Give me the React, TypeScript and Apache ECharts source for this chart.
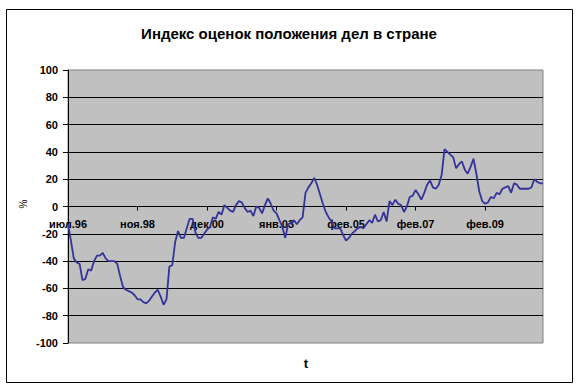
import React, { useEffect, useRef } from "react";
import * as echarts from "echarts";

const titleText = "Индекс оценок положения дел в стране";
const tickLabels = ["июл.96", "ноя.98", "дек.00", "янв.03", "фев.05", "фев.07", "фев.09"];
const pointsPerTick = 24;
const yTicks = { min: -100, max: 100, step: 20 };

const indexValues = [
  -13, -25, -38, -41, -42, -54, -53, -46, -47, -40,
  -36, -36, -34, -38, -40, -40, -40, -42, -51, -59,
  -61, -62, -63, -65, -68, -68, -70, -71, -69, -66,
  -63, -61, -66, -72, -68, -44, -43, -26, -18, -23,
  -23, -16, -9, -9, -19, -23, -23, -20, -17, -15,
  -8, -9, -4, -6, 1, -1, -3, -4, 1, 4,
  3, -1, -4, -3, -7, 0, -1, -5, 1, 6,
  2, -3, -5, -10, -15, -23, -13, -12, -10, -13,
  -10, -8, 10, 14, 17, 21, 16, 9, 2, -4,
  -8, -11, -16, -16, -16, -21, -25, -23, -20, -18,
  -16, -15, -16, -13, -10, -12, -6, -11, -10, -4,
  -11, 4, 1, 5, 2, 1, -4, 0, 7, 8,
  12, 9, 5, 10, 16, 19, 14, 13, 16, 23,
  42, 40, 38, 36, 28, 31, 33, 27, 24, 29,
  35, 24, 11, 4, 2, 3, 7, 6, 10, 9,
  13, 14, 15, 10, 17, 16, 13, 13, 13, 13,
  14, 20, 18, 17, 17,
];

const categories = indexValues.map((_, i) => String(i));

const FONT = 'Arial, "Liberation Sans", sans-serif';

const GRID_TOP = 70;
const GRID_BOTTOM = 44;
const CHART_H = 387;
const GRID_H = CHART_H - GRID_TOP - GRID_BOTTOM;
// distance from grid bottom to the y = 0 line
const zeroOffset = (GRID_H * (0 - yTicks.min)) / (yTicks.max - yTicks.min);

export default function App() {
  const ref = useRef<HTMLDivElement>(null);

  useEffect(() => {
    if (!ref.current) return;
    const chart = echarts.init(ref.current, undefined, { renderer: "svg" });
    chart.setOption({
      animation: false,
      backgroundColor: "#ffffff",
      textStyle: { fontFamily: FONT },
      title: {
        text: titleText,
        left: "center",
        top: 21,
        textStyle: { fontSize: 15, fontWeight: "bold", color: "#000", fontFamily: FONT },
      },
      graphic: [
        {
          type: "rect",
          shape: { x: 6.5, y: 9.5, width: 566, height: 373 },
          style: { fill: "none", stroke: "#000", lineWidth: 1 },
          silent: true,
        },
        {
          type: "text",
          x: 23,
          y: 204,
          rotation: Math.PI / 2,
          style: { text: "%", fontSize: 10, fill: "#000", align: "center", verticalAlign: "middle", fontFamily: FONT },
        },
        {
          type: "text",
          x: 306,
          y: 363,
          style: { text: "t", fontSize: 13, fontWeight: "bold", fill: "#000", align: "center", verticalAlign: "middle", fontFamily: FONT },
        },
      ],
      grid: {
        left: 68,
        right: 35,
        top: GRID_TOP,
        bottom: GRID_BOTTOM,
        show: true,
        backgroundColor: "#C0C0C0",
        borderColor: "#808080",
        borderWidth: 1,
      },
      xAxis: {
        type: "category",
        data: categories,
        boundaryGap: false,
        offset: -zeroOffset,
        axisLine: { onZero: false, lineStyle: { color: "#000", width: 1 } },
        axisTick: { show: true, interval: pointsPerTick - 1, length: 4, lineStyle: { color: "#000" } },
        axisLabel: {
          interval: pointsPerTick - 1,
          margin: 12,
          fontSize: 11,
          fontWeight: "bold",
          color: "#000",
          fontFamily: FONT,
          formatter: (_v: string, idx: number) => tickLabels[Math.round(idx / pointsPerTick)] ?? "",
        },
        splitLine: { show: false },
      },
      yAxis: {
        type: "value",
        min: yTicks.min,
        max: yTicks.max,
        interval: yTicks.step,
        axisLine: { show: true, lineStyle: { color: "#000", width: 1 } },
        axisTick: { show: true, length: 5, lineStyle: { color: "#000" } },
        axisLabel: { margin: 10, fontSize: 11, fontWeight: "bold", color: "#000", fontFamily: FONT },
        splitLine: { show: true, showMinLine: false, showMaxLine: false, lineStyle: { color: "#000", width: 1 } },
      },
      series: [
        {
          type: "line",
          data: indexValues,
          showSymbol: false,
          symbol: "none",
          z: 3,
          lineStyle: { color: "#333399", width: 1.8 },
          itemStyle: { color: "#333399" },
        },
      ],
    });
    return () => chart.dispose();
  }, []);

  return (
    <div
      ref={ref}
      style={{ position: "fixed", left: 0, top: 0, width: 578, height: 387 }}
    />
  );
}
